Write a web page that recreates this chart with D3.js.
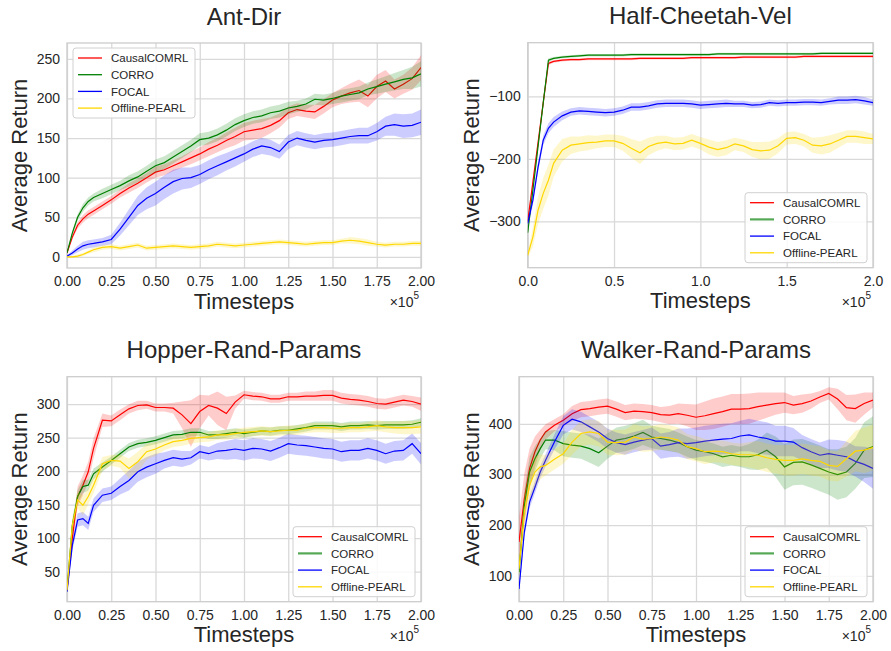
<!DOCTYPE html>
<html>
<head>
<meta charset="utf-8">
<title>Average return vs timesteps</title>
<script src="https://cdn.jsdelivr.net/npm/d3@7/dist/d3.min.js"></script>
<style>
  body { margin: 0; background: #fff; }
  svg { font-family: "Liberation Sans", Arial, sans-serif; }
  text { fill: #262626; }
  .axis text { font-size: 14px; }
  .axis line { stroke: #d9d9d9; stroke-width: 1.3px; }
  .axis .domain { display: none; }
  .title { font-size: 24px; }
  .label { font-size: 22px; }
  .legend text { font-size: 11.5px; }
</style>
</head>
<body>
<svg id="chart" width="891" height="651"></svg>
<script>
// timesteps (x 1e5) shared by all runs
var steps = [0, 0.03, 0.06, 0.09, 0.12, 0.15, 0.2, 0.25, 0.3, 0.35, 0.4, 0.45, 0.5, 0.55, 0.6, 0.65, 0.7, 0.75, 0.8, 0.85, 0.9,
  0.95, 1.0, 1.05, 1.1, 1.15, 1.2, 1.25, 1.3, 1.35, 1.4, 1.45, 1.5, 1.55, 1.6, 1.65, 1.7, 1.75, 1.8, 1.85, 1.9, 1.95, 2.0];

var methods = ['CausalCOMRL', 'CORRO', 'FOCAL', 'Offline-PEARL'];
var colors = ['#ff0000', '#008000', '#0000ff', '#ffd700'];

// Ant-Dir: mean return and half width of shaded band
var antCausal = [5,25,40,48,54, 58,65,72,80,87, 93,100,107,110,115, 120,125,130,136,141, 147,152,158,160,162, 166,172,182,186,184, 183,190,198,203,207, 210,203,215,222,212, 218,225,239];
var antCausalSd = [1,3,4,5,5, 5,5,5,5,6, 6,6,7,7,7, 7,8,8,9,9, 10,11,11,12,12, 10,9,8,8,8, 9,9,9,10,12, 14,14,15,14,12, 12,14,16];
var antCorro = [5,30,50,62,70, 75,80,85,90,96, 101,108,115,119,126, 133,140,148,150,154, 160,167,172,176,178, 182,184,188,190,193, 199,198,200,203,205, 207,212,215,218,221, 224,226,231];
var antCorroSd = [1,3,4,5,5, 5,6,6,6,7, 7,7,8,8,8, 8,8,8,8,8, 8,8,8,8,8, 8,8,8,7,7, 7,7,7,8,8, 8,8,9,10,11, 12,14,16];
var antFocal = [1,5,10,14,16, 17,19,22,35,50, 65,74,80,88,95, 99,100,104,110,115, 120,125,130,136,140, 138,133,145,150,147, 145,147,148,150,152, 153,153,158,165,167, 165,166,170];
var antFocalSd = [1,3,4,5,5, 5,5,6,8,10, 12,14,15,15,15, 14,13,12,12,12, 11,11,10,10,10, 10,9,9,9,9, 9,9,9,9,9, 10,10,11,12,14, 15,15,16];
var antPearl = [0,0,1,3,6, 9,12,13,11,13, 15,11,12,13,14, 13,12,13,14,16, 15,14,15,16,17, 18,19,18,17,16, 17,18,18,20,21, 20,18,16,15,16, 16,17,17];
var antPearlSd = [1,1,2,2,2, 3,3,3,3,3, 3,3,3,3,3, 3,3,3,3,3, 3,3,3,3,3, 3,3,3,3,3, 3,3,3,3,4, 4,4,3,3,3, 3,3,3];

// Half-Cheetah-Vel
var hcCausal = [-300,-237,-174,-110,-47, -44,-42,-41,-41,-40, -40,-40,-40,-40,-40, -39,-39,-39,-39,-39, -39,-38,-38,-38,-38, -38,-38,-37,-37,-37, -37,-37,-37,-37,-36, -36,-36,-36,-36,-36, -36,-36,-36];
var hcCausalSd = [3,5,6,6,3, 2,2,2,2,2, 2,2,2,2,2, 2,2,2,2,2, 2,2,2,2,2, 2,2,2,2,2, 2,2,2,2,2, 2,2,2,2,2, 2,2,2];
var hcCorro = [-318,-250,-180,-110,-42, -39,-37,-36,-35,-34, -34,-34,-34,-34,-33, -33,-33,-33,-33,-33, -33,-33,-33,-33,-32, -32,-32,-32,-32,-32, -32,-32,-32,-32,-32, -32,-31,-31,-31,-31, -31,-31,-31];
var hcCorroSd = [3,5,6,6,3, 2,2,2,2,2, 2,2,2,2,2, 2,2,2,2,2, 2,2,2,2,2, 2,2,2,2,2, 2,2,2,2,2, 2,2,2,2,2, 2,2,2];
var hcFocal = [-303,-266,-213,-170,-151, -141,-131,-125,-123,-124, -125,-126,-125,-122,-117, -117,-115,-112,-111,-111, -111,-112,-114,-113,-112, -111,-112,-112,-114,-113, -110,-111,-110,-110,-109, -109,-110,-108,-106,-106, -105,-107,-110];
var hcFocalSd = [8,8,8,8,8, 8,7,6,6,6, 6,6,6,6,6, 6,6,6,6,6, 6,6,6,6,6, 6,5,5,5,5, 5,5,5,5,5, 5,5,5,6,6, 6,6,5];
var hcPearl = [-354,-325,-282,-255,-234, -207,-186,-178,-176,-174, -173,-171,-171,-175,-183, -190,-180,-175,-173,-176, -175,-170,-175,-181,-185, -182,-176,-179,-185,-187, -186,-179,-167,-166,-170, -178,-179,-176,-170,-164, -164,-166,-168];
var hcPearlSd = [5,15,22,25,25, 22,18,14,12,12, 10,10,10,12,15, 18,14,12,10,10, 10,10,10,12,12, 12,10,10,12,14, 14,12,10,10,10, 12,14,14,12,10, 10,10,8];

// Hopper-Rand-Params
var hopCausal = [22,100,162,179,199, 234,276,275,284,293, 298,299,295,295,294, 284,271,289,298,294, 286,303,314,312,311, 308,308,311,311,312, 312,313,313,309,307, 306,304,301,300,303, 306,304,300];
var hopCausalSd = [3,10,15,15,15, 15,10,8,8,7, 7,6,6,6,8, 20,35,25,15,25, 25,10,6,6,6, 6,6,6,6,7, 7,8,8,8,8, 8,8,8,8,8, 8,8,10];
var hopCorro = [22,119,162,177,179, 196,206,216,226,236, 241,243,246,250,254, 255,258,258,254,254, 256,258,256,258,260, 259,261,261,263,265, 268,268,268,266,268, 268,269,268,269,269, 269,270,273];
var hopCorroSd = [3,8,10,10,8, 8,7,6,6,6, 6,6,6,6,6, 6,6,6,6,6, 6,6,6,6,6, 6,6,6,6,6, 6,6,6,6,6, 6,6,6,6,6, 6,6,6];
var hopFocal = [20,89,127,129,122, 149,164,167,177,186, 199,206,211,216,220, 218,220,229,226,230, 231,233,231,234,233, 230,235,241,239,238, 236,234,233,229,231, 231,234,231,226,230, 231,241,226];
var hopFocalSd = [2,8,10,10,10, 10,10,10,12,15, 15,15,15,12,12, 12,10,10,10,12, 14,15,15,15,15, 15,15,15,15,15, 15,15,15,15,15, 15,15,15,15,15, 15,15,16];
var hopPearl = [22,119,157,149,162, 179,211,216,215,204, 214,229,233,239,244, 246,249,250,251,254, 254,256,258,259,260, 259,260,261,261,264, 265,265,264,264,265, 265,266,268,266,265, 265,265,266];
var hopPearlSd = [3,10,12,15,12, 12,10,8,10,15, 15,12,10,8,8, 8,8,7,7,7, 7,7,7,7,7, 7,7,7,7,7, 7,7,7,7,7, 7,7,8,8,9, 10,10,10];

// Walker-Rand-Params
var wkCausal = [167,252,312,345,368, 384,397,407,420,428, 430,433,435,429,422, 425,424,422,418,417, 420,417,413,416,420, 424,429,429,430,434, 437,440,442,437,440, 445,453,460,449,432, 430,440,447];
var wkCausalSd = [50,50,40,30,20, 15,12,12,15,15, 15,15,15,15,15, 15,15,15,15,18, 20,22,25,28,30, 30,30,30,30,28, 25,22,20,18,18, 15,12,12,20,25, 28,22,15];
var wkCorro = [107,239,305,331,351, 368,368,361,358,356, 351,343,356,368,371, 376,383,374,371,368, 363,355,348,345,341, 335,338,335,335,339, 348,335,315,324,325, 319,312,305,300,305, 322,348,355];
var wkCorroSd = [15,30,30,25,20, 18,20,25,25,25, 28,28,25,25,25, 25,25,22,22,22, 20,20,20,20,20, 20,20,20,25,30, 35,40,45,45,45, 45,45,45,50,50, 50,55,60];
var wkFocal = [74,186,246,275,305, 328,364,397,409,404, 394,384,371,363,359, 364,368,371,356,359, 363,361,363,366,368, 370,371,376,378,374, 371,366,366,364,353, 345,338,341,338,335, 326,320,312];
var wkFocalSd = [5,10,12,12,12, 12,15,18,20,20, 20,20,20,20,20, 20,20,22,25,25, 28,30,30,30,30, 30,30,30,32,32, 32,30,30,28,25, 25,25,28,30,30, 30,35,40];
var wkPearl = [114,226,279,305,315, 318,330,341,364,381, 384,381,364,363,364, 374,370,371,374,372, 368,355,351,345,346, 345,341,339,339,338, 333,330,328,328,331, 328,326,318,316,331, 346,348,353];
var wkPearlSd = [20,30,30,30,25, 20,20,20,25,25, 25,25,25,25,25, 25,25,25,25,25, 25,25,25,25,22, 22,22,22,25,28, 28,28,30,30,30, 30,30,30,30,35, 40,45,45];

var panels = [
  {title: 'Ant-Dir', left: 67, right: 421, top: 43, bottom: 268, yDomain: [-14, 270],
   yTicks: [0, 50, 100, 150, 200, 250], xTicks: [0, 0.25, 0.5, 0.75, 1, 1.25, 1.5, 1.75, 2], xFmt: '.2f',
   legend: 'upper left', wideCorro: false, labelX: 27,
   mean: [antCausal, antCorro, antFocal, antPearl], sd: [antCausalSd, antCorroSd, antFocalSd, antPearlSd]},
  {title: 'Half-Cheetah-Vel', left: 527.7, right: 873, top: 42.7, bottom: 267.7, yDomain: [-374, -14],
   yTicks: [-300, -200, -100], xTicks: [0, 0.5, 1, 1.5, 2], xFmt: '.1f',
   legend: 'lower right', wideCorro: true, labelX: 479,
   mean: [hcCausal, hcCorro, hcFocal, hcPearl], sd: [hcCausalSd, hcCorroSd, hcFocalSd, hcPearlSd]},
  {title: 'Hopper-Rand-Params', left: 67, right: 421, top: 376.7, bottom: 601.7, yDomain: [5, 341],
   yTicks: [50, 100, 150, 200, 250, 300], xTicks: [0, 0.25, 0.5, 0.75, 1, 1.25, 1.5, 1.75, 2], xFmt: '.2f',
   legend: 'lower right', wideCorro: true, labelX: 27,
   mean: [hopCausal, hopCorro, hopFocal, hopPearl], sd: [hopCausalSd, hopCorroSd, hopFocalSd, hopPearlSd]},
  {title: 'Walker-Rand-Params', left: 519, right: 873, top: 376.7, bottom: 601.7, yDomain: [49, 493],
   yTicks: [100, 200, 300, 400], xTicks: [0, 0.25, 0.5, 0.75, 1, 1.25, 1.5, 1.75, 2], xFmt: '.2f',
   legend: 'lower right', wideCorro: true, labelX: 479,
   mean: [wkCausal, wkCorro, wkFocal, wkPearl], sd: [wkCausalSd, wkCorroSd, wkFocalSd, wkPearlSd]}
];

var svg = d3.select('#chart');

panels.forEach(function (p, pi) {
  var w = p.right - p.left, h = p.bottom - p.top;
  var x = d3.scaleLinear().domain([0, 2]).range([p.left, p.right]);
  var y = d3.scaleLinear().domain(p.yDomain).range([p.bottom, p.top]);

  // grid + tick labels
  svg.append('g').attr('class', 'axis')
    .attr('transform', 'translate(0,' + p.bottom + ')')
    .call(d3.axisBottom(x).tickValues(p.xTicks).tickFormat(d3.format(p.xFmt)).tickSize(-h).tickPadding(8))
    .attr('font-family', null).attr('font-size', null);
  svg.append('g').attr('class', 'axis')
    .attr('transform', 'translate(' + p.left + ',0)')
    .call(d3.axisLeft(y).tickValues(p.yTicks).tickSize(-w).tickPadding(7))
    .attr('font-family', null).attr('font-size', null);

  // frame
  svg.append('rect')
    .attr('x', p.left).attr('y', p.top).attr('width', w).attr('height', h)
    .attr('fill', 'none').attr('stroke', '#cccccc').attr('stroke-width', 1.3);

  var clipId = 'clip' + pi;
  svg.append('clipPath').attr('id', clipId).append('rect')
    .attr('x', p.left).attr('y', p.top).attr('width', w).attr('height', h);
  var plot = svg.append('g').attr('clip-path', 'url(#' + clipId + ')');

  var area = d3.area()
    .x(function (d) { return x(d.t); })
    .y0(function (d) { return y(d.m - d.s); })
    .y1(function (d) { return y(d.m + d.s); });
  var line = d3.line()
    .x(function (d) { return x(d.t); })
    .y(function (d) { return y(d.m); });

  methods.forEach(function (name, k) {
    var rows = steps.map(function (t, i) { return {t: t, m: p.mean[k][i], s: p.sd[k][i]}; });
    plot.append('path').datum(rows)
      .attr('d', area).attr('fill', colors[k]).attr('fill-opacity', 0.2).attr('stroke', 'none');
    plot.append('path').datum(rows)
      .attr('d', line).attr('fill', 'none').attr('stroke', colors[k]).attr('stroke-width', 1.2);
  });

  // titles and labels
  svg.append('text').attr('class', 'title')
    .attr('x', (p.left + p.right) / 2).attr('y', p.top - 18.5)
    .attr('text-anchor', 'middle').text(p.title);
  svg.append('text').attr('class', 'label')
    .attr('x', (p.left + p.right) / 2).attr('y', p.bottom + 40.5)
    .attr('text-anchor', 'middle').text('Timesteps');
  svg.append('text').attr('class', 'label')
    .attr('transform', 'translate(' + p.labelX + ',' + (p.top + h / 2) + ') rotate(-90)')
    .attr('text-anchor', 'middle').text('Average Return');
  var off = svg.append('text')
    .attr('x', p.right - 2).attr('y', p.bottom + 39)
    .attr('text-anchor', 'end').attr('font-size', 14);
  off.append('tspan').text('\u00d710');
  off.append('tspan').attr('dy', -8).attr('font-size', 10).text('5');

  // legend
  var lw = 122, lh = 70;
  var lx = p.legend === 'upper left' ? p.left + 6 : p.right - 6 - lw;
  var ly = p.legend === 'upper left' ? p.top + 5 : p.bottom - 5 - lh;
  var lg = svg.append('g').attr('class', 'legend').attr('transform', 'translate(' + lx + ',' + ly + ')');
  lg.append('rect').attr('width', lw).attr('height', lh).attr('rx', 3)
    .attr('fill', '#ffffff').attr('fill-opacity', 0.85)
    .attr('stroke', '#d0d0d0').attr('stroke-width', 1);
  methods.forEach(function (name, k) {
    var cy = 10 + k * 16.7;
    var wide = p.wideCorro && k === 1;
    lg.append('line').attr('x1', 5).attr('x2', 29).attr('y1', cy).attr('y2', cy)
      .attr('stroke', wide ? '#55a855' : colors[k]).attr('stroke-width', wide ? 2.2 : 1.3);
    lg.append('text').attr('x', 38).attr('y', cy + 4.2).text(name);
  });
});
</script>
</body>
</html>
